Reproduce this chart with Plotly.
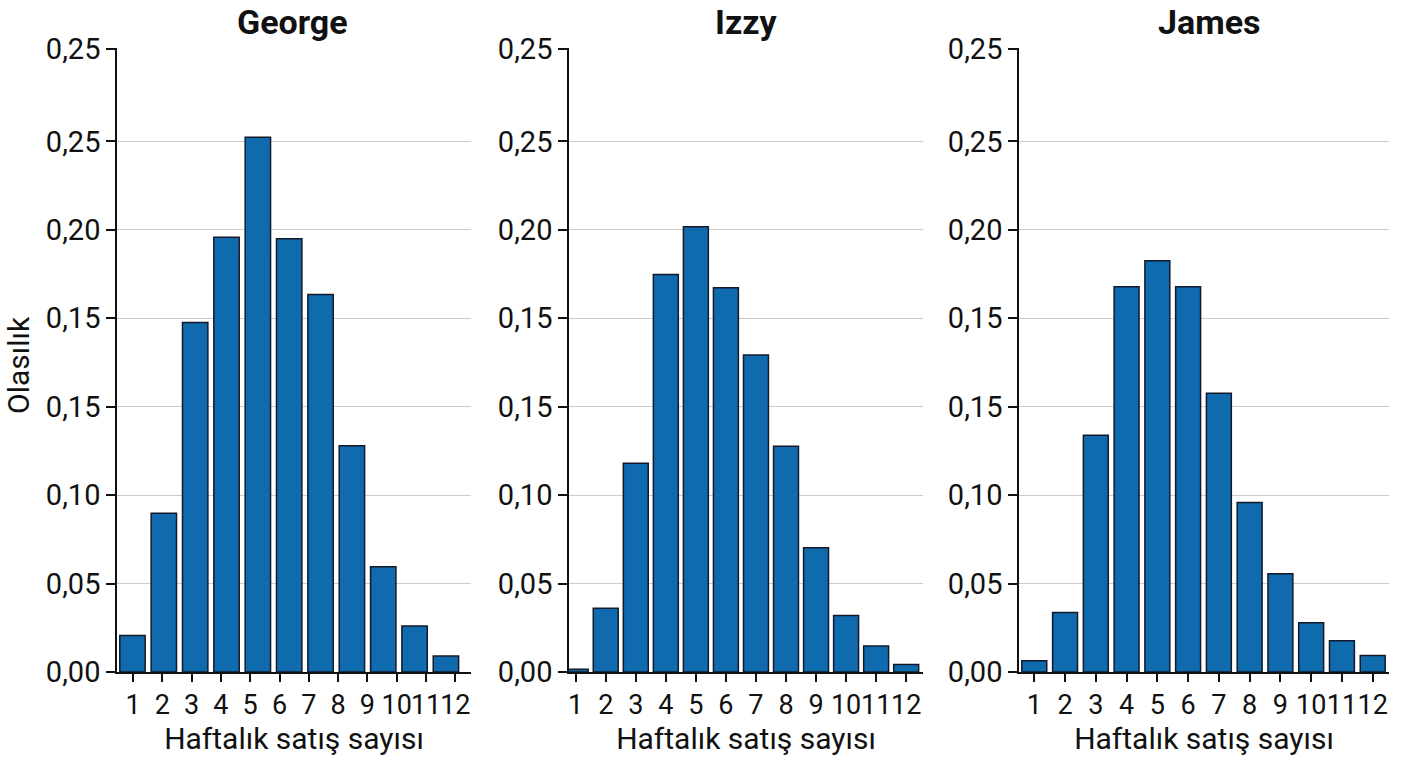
import plotly.graph_objects as go

# ---- data ----
names = ["George", "Izzy", "James"]
x_labels = ["1", "2", "3", "4", "5", "6", "7", "8", "9", "10", "11", "12"]
george_x = [1, 2, 3, 4, 5, 6, 7, 8, 9, 10, 11]
george_y = [0.0207, 0.0897, 0.1976, 0.2458, 0.3024, 0.2450, 0.2134, 0.1279, 0.0595, 0.0260, 0.0090]
izzy_x = [1, 2, 3, 4, 5, 6, 7, 8, 9, 10, 11, 12]
izzy_y = [0.0015, 0.0360, 0.1180, 0.2247, 0.2518, 0.2173, 0.1793, 0.1277, 0.0702, 0.0320, 0.0147, 0.0043]
james_x = [1, 2, 3, 4, 5, 6, 7, 8, 9, 10, 11, 12]
james_y = [0.0064, 0.0337, 0.1339, 0.2179, 0.2326, 0.2179, 0.1576, 0.0959, 0.0555, 0.0279, 0.0177, 0.0094]
y_tickvals = [0.0, 0.05, 0.10, 0.15, 0.20, 0.25, 0.30, 0.3525]
y_ticktext = ["0,00", "0,05", "0,10", "0,15", "0,15", "0,20", "0,25", "0,25"]
george_tickvals = [1.016 + 0.935 * i for i in range(12)]
std_tickvals = list(range(1, 13))

FONT = "Roboto, Liberation Sans, sans-serif"
BAR = "#0f6aae"
EDGE = "#151a2a"

W, H = 1408, 768
def px(x):
    return x / W
def py(y):
    return 1 - y / H

panels = [
    dict(name="George", x=george_x, y=george_y, dom=(117, 471), rng=(0.506, 11.80),
         tv=george_tickvals, width=0.81, title_x=292),
    dict(name="Izzy", x=izzy_x, y=izzy_y, dom=(569, 923), rng=(0.777, 12.56),
         tv=std_tickvals, width=0.83, title_x=746),
    dict(name="James", x=james_x, y=james_y, dom=(1019, 1389), rng=(0.503, 12.53),
         tv=std_tickvals, width=0.81, title_x=1209),
]

fig = go.Figure()
annotations = []
for i, p in enumerate(panels):
    xa = "x" if i == 0 else f"x{i+1}"
    ya = "y" if i == 0 else f"y{i+1}"
    fig.add_trace(go.Bar(
        x=p["x"], y=p["y"], xaxis=xa, yaxis=ya, width=p["width"],
        marker=dict(color=BAR, line=dict(color=EDGE, width=1.5)),
        showlegend=False, name=p["name"],
    ))
    xkey = "xaxis" if i == 0 else f"xaxis{i+1}"
    ykey = "yaxis" if i == 0 else f"yaxis{i+1}"
    fig.update_layout(**{
        xkey: dict(
            domain=[px(p["dom"][0]), px(p["dom"][1])],
            anchor=ya, range=list(p["rng"]), automargin=False,
            tickmode="array", tickvals=p["tv"], ticktext=x_labels, tickangle=0,
            ticks="outside", ticklen=8, tickwidth=1.5, tickcolor="#111",
            showline=True, linecolor="#111", linewidth=1.5,
            showgrid=False, zeroline=False,
            tickfont=dict(family=FONT, size=27, color="#111"),
            title=dict(text="Haftalık satış sayısı", standoff=7,
                       font=dict(family=FONT, size=30, color="#111")),
        ),
        ykey: dict(
            domain=[py(672), py(47.7)],
            anchor=xa, range=[0, 0.3530], automargin=False,
            tickmode="array", tickvals=y_tickvals, ticktext=y_ticktext,
            ticks="outside", ticklen=9, tickwidth=1.5, tickcolor="#111",
            showline=True, linecolor="#111", linewidth=1.5,
            showgrid=True, gridcolor="#cccccc", gridwidth=1.2,
            zeroline=False,
            tickfont=dict(family=FONT, size=29, color="#111"),
        ),
    })
    annotations.append(dict(
        text=f"<b>{p['name']}</b>", x=px(p["title_x"]), y=py(22),
        xref="paper", yref="paper", showarrow=False, xanchor="center", yanchor="middle",
        font=dict(family=FONT, size=34, color="#111"),
    ))

annotations.append(dict(
    text="Olasılık", x=px(18), y=py(365), xref="paper", yref="paper",
    showarrow=False, textangle=-90, xanchor="center", yanchor="middle",
    font=dict(family=FONT, size=30, color="#111"),
))

fig.update_layout(
    width=W, height=H,
    margin=dict(l=0, r=0, t=0, b=0),
    paper_bgcolor="white", plot_bgcolor="white",
    bargap=0.17,
    annotations=annotations,
)

fig.write_html("out.html")
